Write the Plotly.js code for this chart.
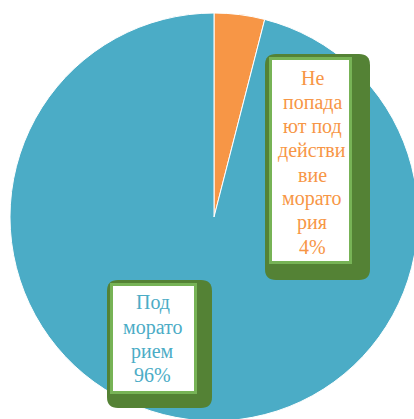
<!DOCTYPE html>
<html>
<head>
<meta charset="utf-8">
<script src="https://cdn.plot.ly/plotly-3.0.1.min.js"></script>
<style>
html,body{margin:0;padding:0;overflow:hidden;width:414px;height:419px;background:#fff;}
#chart{width:430px;height:421px;}
</style>
</head>
<body>
<div id="chart"></div>
<script>
const categories = ["Не попадают под действие моратория", "Под мораторием"];
const values = [4, 96];
const percentLabels = ["4%", "96%"];
const labelLines = [
  ["Не", "попада", "ют под", "действи", "вие", "морато", "рия"],
  ["Под", "морато", "рием"]
];
const sliceColors = ["#F79646", "#4BACC6"];

const W = 430, H = 421, ML = 10, MR = 12, MT = 13, MB = 0;
const PW = W - ML - MR, PH = H - MT - MB;
const px = x => (x - ML) / PW;
const py = y => 1 - (y - MT) / PH;

function roundRect(x0, y0, x1, y1, r) {
  const X0 = px(x0), X1 = px(x1), Y0 = py(y0), Y1 = py(y1);
  const rx = r / PW, ry = r / PH;
  return `M ${X0 + rx},${Y0} L ${X1 - rx},${Y0} Q ${X1},${Y0} ${X1},${Y0 - ry} ` +
    `L ${X1},${Y1 + ry} Q ${X1},${Y1} ${X1 - rx},${Y1} L ${X0 + rx},${Y1} ` +
    `Q ${X0},${Y1} ${X0},${Y1 + ry} L ${X0},${Y0 - ry} Q ${X0},${Y0} ${X0 + rx},${Y0} Z`;
}

const trace = {
  type: "pie",
  labels: categories,
  values: values,
  sort: false,
  direction: "clockwise",
  rotation: 0,
  marker: {colors: sliceColors, line: {color: "#ffffff", width: 1}},
  textinfo: "none",
  hoverinfo: "none",
  showlegend: false,
  domain: {x: [0, 1], y: [0, 1]}
};

const FS = 20, LS = 24.2;
const boxes = [
  {shadow: [265, 54, 370, 280], inner: [270.5, 58.5, 350.5, 262.5], cx: 312, base: 84.3, color: sliceColors[0]},
  {shadow: [107, 280, 212, 408], inner: [111.5, 284.5, 195.5, 392.5], cx: 152.5, base: 309.3, color: sliceColors[1]}
];

const shapes = [];
boxes.forEach(b => {
  shapes.push({
    type: "path", xref: "paper", yref: "paper",
    path: roundRect(b.shadow[0], b.shadow[1], b.shadow[2], b.shadow[3], 11),
    fillcolor: "#548235", line: {width: 0}, layer: "above"
  });
  shapes.push({
    type: "rect", xref: "paper", yref: "paper",
    x0: px(b.inner[0]), x1: px(b.inner[2]), y0: py(b.inner[1]), y1: py(b.inner[3]),
    fillcolor: "#ffffff", line: {color: "#77B356", width: 3}, layer: "above"
  });
});

const annotations = [];
boxes.forEach((b, i) => {
  const lines = labelLines[i].concat([percentLabels[i]]);
  lines.forEach((t, j) => {
    annotations.push({
      xref: "paper", yref: "paper", x: px(b.cx), y: py(b.base + j * LS - 6.5),
      xanchor: "center", yanchor: "middle",
      text: t, showarrow: false,
      font: {family: "'Liberation Serif', 'Times New Roman', serif", size: FS, color: b.color}
    });
  });
});

const layout = {
  width: W, height: H,
  margin: {l: ML, r: MR, t: MT, b: MB, pad: 0},
  paper_bgcolor: "#ffffff",
  showlegend: false,
  shapes: shapes,
  annotations: annotations
};

Plotly.newPlot("chart", [trace], layout, {displayModeBar: false, staticPlot: true});
</script>
</body>
</html>
